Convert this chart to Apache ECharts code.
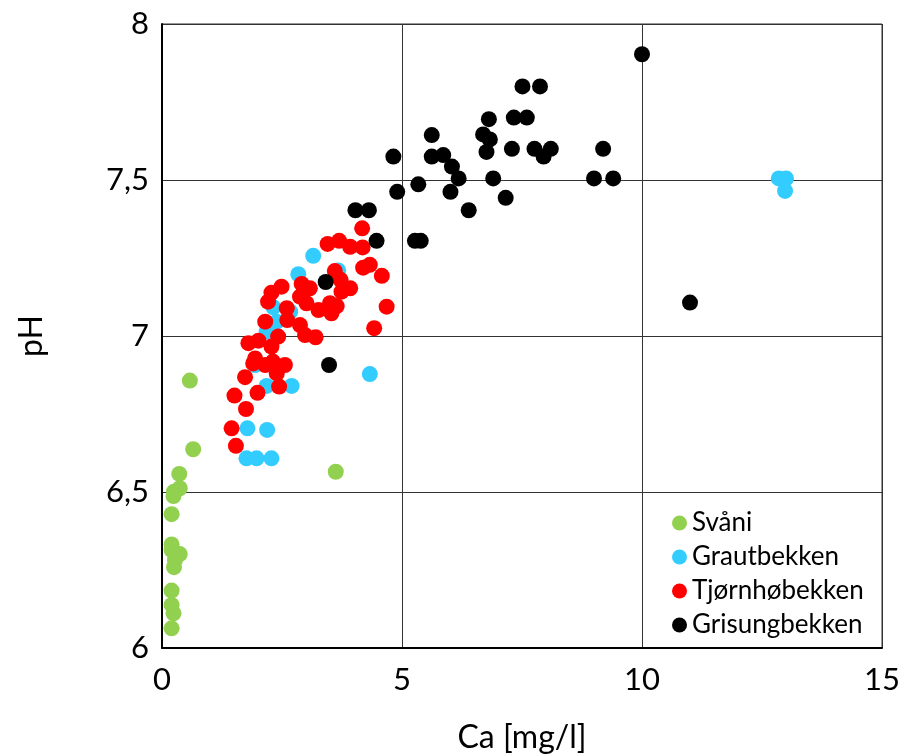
<!DOCTYPE html>
<html>
<head>
<meta charset="utf-8">
<script src="https://cdn.jsdelivr.net/npm/echarts@6/dist/echarts.min.js"></script>
<style>
  html, body { margin: 0; padding: 0; background: #fff; }
  #plot { width: 904px; height: 755px; }
</style>
</head>
<body>
<div id="plot"></div>
<script>
// Ca [mg/l], pH
var svaani = [
  [0.58, 6.857], [0.65, 6.637], [3.62, 6.565], [0.36, 6.558], [0.37, 6.512],
  [0.25, 6.501], [0.24, 6.487], [0.20, 6.429], [0.20, 6.332], [0.20, 6.314],
  [0.37, 6.301], [0.27, 6.282], [0.25, 6.259], [0.20, 6.184], [0.20, 6.138],
  [0.24, 6.111], [0.20, 6.063]
];
var grautbekken = [
  [12.85, 7.505], [13.0, 7.505], [12.98, 7.465],
  [3.15, 7.257], [2.84, 7.198], [3.67, 7.21], [2.32, 7.092], [2.67, 7.078],
  [2.39, 7.046], [2.18, 7.014], [4.33, 6.878], [2.18, 6.84], [2.70, 6.84],
  [1.94, 6.907], [1.78, 6.704], [2.19, 6.699], [1.76, 6.608], [1.97, 6.608],
  [2.28, 6.608]
];
var tjornhobekken = [
  [4.17, 7.345], [3.45, 7.295], [3.69, 7.305], [3.92, 7.286], [4.18, 7.284],
  [4.19, 7.219], [4.33, 7.228], [4.58, 7.193], [3.60, 7.208], [3.72, 7.18],
  [3.92, 7.153], [3.74, 7.142], [2.91, 7.167], [3.08, 7.153], [2.49, 7.158],
  [2.28, 7.139], [2.21, 7.11], [2.875, 7.126], [3.01, 7.105], [3.26, 7.083],
  [3.50, 7.105], [3.64, 7.096], [3.53, 7.073], [2.60, 7.089], [2.61, 7.051],
  [2.875, 7.035], [2.98, 7.003], [3.20, 6.996], [2.15, 7.046], [4.68, 7.094],
  [4.42, 7.025], [1.80, 6.977], [2.01, 6.985], [2.42, 6.998], [2.28, 6.966],
  [1.94, 6.928], [1.90, 6.912], [2.15, 6.907], [2.31, 6.918], [2.56, 6.907],
  [2.39, 6.88], [1.73, 6.868], [1.99, 6.818], [2.44, 6.838], [1.51, 6.809],
  [1.75, 6.766], [1.45, 6.704], [1.54, 6.648]
];
var grisungbekken = [
  [10.0, 7.903], [7.51, 7.80], [7.875, 7.80], [6.81, 7.695], [7.33, 7.70],
  [7.60, 7.70], [5.62, 7.644], [6.69, 7.646], [6.83, 7.63], [6.76, 7.59],
  [7.29, 7.60], [7.76, 7.60], [8.10, 7.60], [7.95, 7.575], [9.19, 7.60],
  [5.62, 7.575], [5.86, 7.58], [4.82, 7.575], [6.04, 7.543], [6.18, 7.505],
  [6.90, 7.505], [9.0, 7.505], [9.40, 7.505], [5.34, 7.486], [4.90, 7.462],
  [6.01, 7.462], [7.16, 7.443], [6.39, 7.403], [4.03, 7.403], [4.31, 7.403],
  [4.47, 7.305], [5.27, 7.305], [5.39, 7.305], [3.41, 7.173], [3.48, 6.907],
  [11.0, 7.107]
];

var seriesNames = ['Svåni', 'Grautbekken', 'Tjørnhøbekken', 'Grisungbekken'];
var seriesColors = ['#92d050', '#33ccff', '#ff0000', '#000000'];
var seriesData = [svaani, grautbekken, tjornhobekken, grisungbekken];

var font = 'Lato, "Open Sans", sans-serif';
var chart = echarts.init(document.getElementById('plot'));

var option = {
  animation: false,
  textStyle: { fontFamily: font, color: '#000' },
  grid: {
    left: 162, right: 22, top: 24, bottom: 107,
    outerBoundsMode: 'none',
    show: true, borderColor: '#333', borderWidth: 1
  },
  legend: {
    orient: 'vertical',
    left: 667,
    top: 505,
    itemWidth: 15,
    itemHeight: 15,
    itemGap: 8,
    icon: 'circle',
    textStyle: { fontFamily: font, fontSize: 26, color: '#000' },
    data: seriesNames
  },
  xAxis: {
    type: 'value',
    min: 0, max: 15, interval: 5,
    name: 'Ca [mg/l]',
    nameLocation: 'middle',
    nameGap: 74,
    nameTextStyle: { fontFamily: font, fontSize: 32, color: '#000' },
    axisLine: { show: true, lineStyle: { color: '#000', width: 2 } },
    axisTick: { show: false },
    axisLabel: { fontFamily: font, fontSize: 31, color: '#000', margin: 16 },
    splitLine: { show: true, lineStyle: { color: '#333', width: 1 } }
  },
  yAxis: {
    type: 'value',
    min: 6, max: 8, interval: 0.5,
    name: 'pH',
    nameLocation: 'middle',
    nameGap: 114,
    nameTextStyle: { fontFamily: font, fontSize: 32, color: '#000' },
    axisLine: { show: true, lineStyle: { color: '#000', width: 2 } },
    axisTick: { show: false },
    axisLabel: {
      fontFamily: font, fontSize: 31, color: '#000', margin: 13,
      formatter: function (v) { return String(v).replace('.', ','); }
    },
    splitLine: { show: true, lineStyle: { color: '#333', width: 1 } }
  },
  series: seriesNames.map(function (name, i) {
    return {
      name: name,
      type: 'scatter',
      data: seriesData[i],
      symbol: 'circle',
      symbolSize: 16,
      itemStyle: { color: seriesColors[i], opacity: 1 }
    };
  })
};

chart.setOption(option);
</script>
</body>
</html>
